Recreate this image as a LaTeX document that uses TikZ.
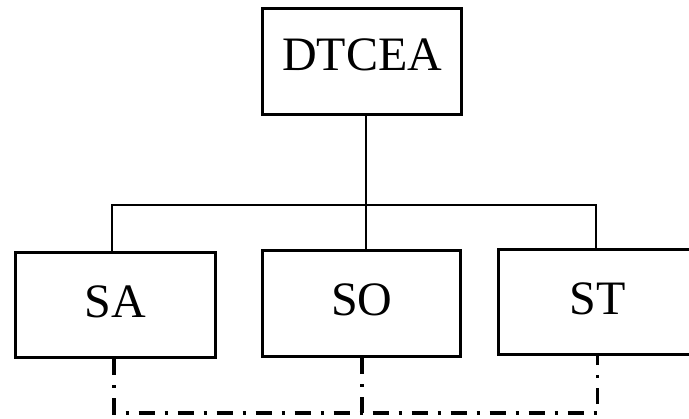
\documentclass[tikz,border=0pt]{standalone}
\usepackage{fontspec}
\setmainfont{Liberation Serif}
\begin{document}
\begin{tikzpicture}[x=1pt,y=-1pt,
  orgbox/.style={draw=black,line width=3pt,rectangle,inner sep=0pt,
    font=\fontsize{48}{50}\selectfont,text height=31pt},
  conn/.style={line width=2.3pt,line cap=rect},
  dashdot/.style={line width=3.3pt,dash pattern=on 16pt off 10pt on 3pt off 10pt}]
\clip (0,0) rectangle (689,419);
\fill[white] (0,0) rectangle (689,419);
\node[orgbox,minimum width=199pt,minimum height=106pt,text depth=13pt] (DTCEA) at (362.2,62) {DTCEA};
\node[orgbox,minimum width=200pt,minimum height=105pt,text depth=6pt] (SA) at (115,305.5) {SA};
\node[orgbox,minimum width=198pt,minimum height=106pt,text depth=8pt] (SO) at (361.7,303.6) {SO};
\node[orgbox,minimum width=199pt,minimum height=105pt,text depth=6pt] (ST) at (597.5,302.5) {ST};
\coordinate (busL) at (112,205);
\coordinate (busM) at (366,205);
\coordinate (busR) at (596,205);
\draw[conn] (DTCEA.south -| busM) -- (busM);
\draw[conn] (busL |- SA.north) -- (busL) -- (busR) -- (busR |- ST.north);
\draw[conn] (busM) -- (busM |- SO.north);
\coordinate (dl) at (114,413);
\coordinate (dm) at (362,413);
\coordinate (dr) at (597.7,413);
\draw[dashdot] (SA.south -| dl) -- (dl) -- (dr) -- (ST.south -| dr);
\draw[dashdot] (SO.south -| dm) -- (dm);
\end{tikzpicture}
\end{document}
